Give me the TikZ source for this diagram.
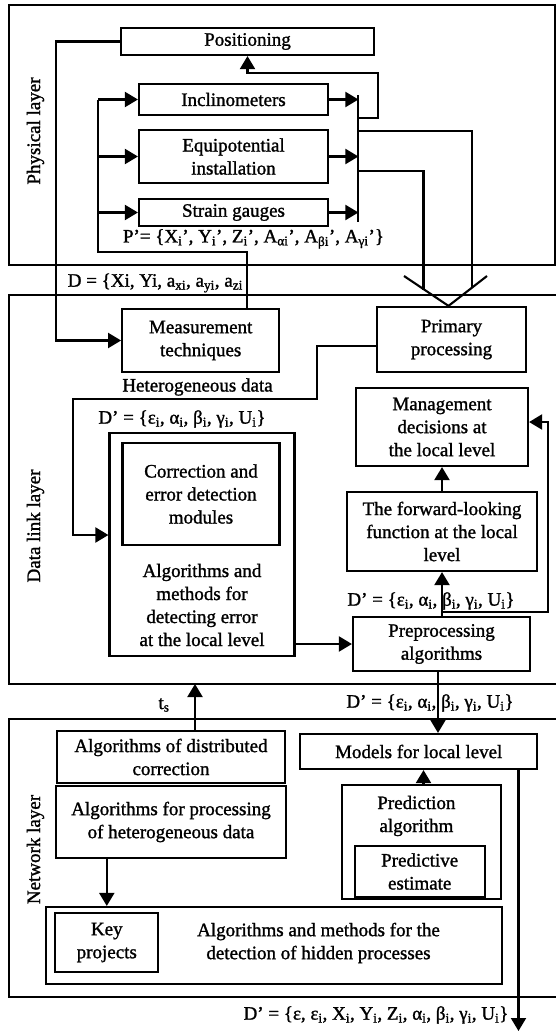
\documentclass[tikz,border=0pt]{standalone}
\usepackage{fontspec}
\setmainfont{Liberation Serif}[FakeBold=1.3]
\usetikzlibrary{arrows.meta,calc}
\newcommand\tf{\fontsize{19}{23}\selectfont}
\begin{document}
\begin{tikzpicture}[x=1pt,y=-1pt,
  box/.style={draw,line width=2.2pt,inner sep=0pt,align=center,font=\tf},
  txt/.style={inner sep=0pt,align=center,font=\tf},
  ln/.style={line width=2.1pt},
  arr/.style={ln,-{Triangle[length=13pt,width=15pt]}},
  layerline/.style={line width=2.3pt}]
\useasboundingbox (0,0) rectangle (556,1033);

% layers
\draw[layerline] (9,5) rectangle (555,265);
\draw[layerline] (560,295) -- (9,295) -- (9,684) -- (560,684);
\draw[layerline] (560,719) -- (9,719) -- (9,997) -- (560,997);
\node[txt,rotate=90] (labphys) at (35.5,131) {Physical layer};
\node[txt,rotate=90] (labdata) at (35.5,526) {Data link layer};
\node[txt,rotate=90] (labnet) at (35.5,849.5) {Network layer};

% physical layer
\node[box,minimum width=253pt,minimum height=27pt] (pos) at (247.5,41.5) {Positioning};
\node[box,minimum width=189pt,minimum height=31pt] (incl) at (233.5,99.5) {Inclinometers};
\node[box,minimum width=189pt,minimum height=53pt] (equi) at (233.5,156.5) {Equipotential\\installation};
\node[box,minimum width=189pt,minimum height=27pt] (strain) at (233.5,212.5) {Strain gauges};
\node[txt] (plab) at (253.5,239) {P'= \{X\textsubscript{i}', Y\textsubscript{i}', Z\textsubscript{i}', A\textsubscript{αi}', A\textsubscript{βi}', A\textsubscript{γi}'\}};

% data link layer
\node[box,minimum width=157pt,minimum height=63pt] (meas) at (200.7,340.5) {Measurement\\techniques};
\node[box,minimum width=149pt,minimum height=65pt] (prim) at (451.5,339.5) {Primary\\processing};
\node[txt,anchor=west] (dlab) at (67.6,283) {D = \{Xi, Yi, a\textsubscript{xi}, a\textsubscript{yi}, a\textsubscript{zi}};
\node[txt] (hetero) at (197.5,387) {Heterogeneous data};
\node[txt] (dp1) at (182,419) {D' = \{ε\textsubscript{i}, α\textsubscript{i}, β\textsubscript{i}, γ\textsubscript{i}, U\textsubscript{i}\}};
\node[box,minimum width=185pt,minimum height=223pt] (algo) at (202,544.5) {};
\node[box,minimum width=157pt,minimum height=102pt] (corr) at (201,494) {Correction and\\error detection\\modules};
\node[txt] (algotxt) at (202,605) {Algorithms and\\methods for\\detecting error\\at the local level};
\node[box,minimum width=172pt,minimum height=78pt] (mgmt) at (442,427) {Management\\decisions at\\the local level};
\node[box,minimum width=190pt,minimum height=79pt] (fwd) at (442,531.5) {The forward-looking\\function at the local\\level};
\node[box,minimum width=177pt,minimum height=54pt] (prep) at (441.5,644) {Preprocessing\\algorithms};
\node[txt] (dp2) at (431,601) {D' = \{ε\textsubscript{i}, α\textsubscript{i}, β\textsubscript{i}, γ\textsubscript{i}, U\textsubscript{i}\}};
\node[txt] (dp3) at (430,703) {D' = \{ε\textsubscript{i}, α\textsubscript{i}, β\textsubscript{i}, γ\textsubscript{i}, U\textsubscript{i}\}};
\node[txt] (ts) at (164,705) {t\textsubscript{s}};

% network layer
\node[box,minimum width=228pt,minimum height=52pt] (dist) at (171,757) {Algorithms of distributed\\correction};
\node[box,minimum width=230pt,minimum height=72pt] (proc) at (171,822) {Algorithms for processing\\of heterogeneous data};
\node[box,minimum width=237pt,minimum height=35pt] (models) at (418.7,751.5) {Models for local level};
\node[box,minimum width=159pt,minimum height=114pt] (pred) at (421.3,842) {};
\node[txt] (predtxt) at (416.4,816) {Prediction\\algorithm};
\node[box,minimum width=130pt,minimum height=51pt] (est) at (419.7,871.5) {Predictive\\estimate};
\node[box,minimum width=455.5pt,minimum height=77pt] (hidden) at (274,945.5) {};
\node[box,minimum width=103pt,minimum height=59pt] (key) at (106.8,942.5) {Key\\projects};
\node[txt] (hidtxt) at (318.5,943) {Algorithms and methods for the\\detection of hidden processes};
\node[txt] (dpb) at (376,1015) {D' = \{ε, ε\textsubscript{i}, X\textsubscript{i}, Y\textsubscript{i}, Z\textsubscript{i}, α\textsubscript{i}, β\textsubscript{i}, γ\textsubscript{i}, U\textsubscript{i}\}};
\coordinate (outend) at (518.5,1031);
\coordinate (tsend) at (195,684);

% connectors physical
\draw[arr] (pos.west) -- (56,41.5) |- (meas.west);
\draw[ln] (meas.north -| 247.3,0) -- (247.3,252) -- (98,252) -- (98,99.5);
\draw[arr] (98,99.5) -- (incl.west);
\draw[arr] (98,156.5) -- (equi.west);
\draw[arr] (98,212.5) -- (strain.west);
\draw[ln] (358.4,95) -- (358.4,222);
\draw[arr] (incl.east) -- (358.4,99.5);
\draw[arr] (equi.east) -- (358.4,156.5);
\draw[arr] (strain.east) -- (358.4,212.5);
\draw[arr] (358.4,118) -- (378,118) -- (378,73) -- (pos.south |- 0,73) -- (pos.south);
\draw[ln] (358.4,131) -- (472,131) -- (472,288.1);
\draw[ln] (358.4,171) -- (423.5,171) -- (423.5,289.6);
\draw[ln] (404,276) -- (prim.north -| 448.5,0) -- (487,276);

% connectors data link
\draw[arr] (prim.west |- 0,346) -- (316.7,346) -- (316.7,399) -- (73,399) -- (73,535) -- (algo.west |- 0,535);
\draw[arr] (algo.east |- prep.west) -- (prep.west);
\draw[arr] (prep.north -| 442,0) -- (fwd.south -| 442,0);
\draw[arr] (fwd.north) -- (mgmt.south);
\draw[arr] (442,612) -- (548,612) -- (548,422) -- (mgmt.east |- 0,422);
\draw[arr] (prep.south -| 438,0) -- (models.north -| 438,0);
\draw[arr] (dist.north -| tsend) -- (tsend);

% connectors network
\draw[arr] (proc.south -| key.north) -- (key.north |- hidden.north);
\draw[arr] (pred.north -| 423.5,0) -- (models.south -| 423.5,0);
\draw[arr] (models.south -| outend) -- (outend);
\end{tikzpicture}
\end{document}
